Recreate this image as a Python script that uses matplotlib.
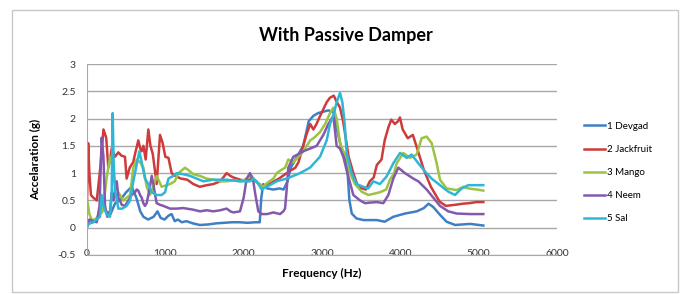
# Acceleration spectra with passive damper, five wood samples

import matplotlib
matplotlib.use("Agg")
import matplotlib.pyplot as plt
from matplotlib.patches import Rectangle

plt.rcParams['font.family'] = ['Lato', 'DejaVu Sans']

# Series (frequency in Hz, acceleration in g)
devgad_f = [0, 20, 60, 120, 170, 200, 240, 300, 360, 420, 500, 570, 630, 680, 720,
            780, 850, 900, 940, 990, 1040, 1080, 1120, 1160, 1210, 1270, 1350, 1440,
            1550, 1650, 1750, 1850, 1950, 2050, 2150, 2205, 2225, 2250, 2300, 2380,
            2460, 2510, 2560, 2600, 2640, 2700, 2760, 2800, 2830, 2890, 2950, 3000,
            3080, 3145, 3190, 3250, 3320, 3350, 3380, 3440, 3530, 3620, 3700, 3800,
            3910, 4060, 4210, 4300, 4360, 4420, 4510, 4590, 4700, 4890, 5060]
devgad_a = [0.0, 0.08, 0.1, 0.12, 0.35, 0.5, 0.3, 0.25, 0.45, 0.5, 0.65, 0.75,
            0.55, 0.3, 0.2, 0.15, 0.2, 0.3, 0.18, 0.15, 0.22, 0.25, 0.12, 0.15, 0.1,
            0.12, 0.08, 0.05, 0.06, 0.08, 0.09, 0.1, 0.1, 0.09, 0.1, 0.1, 0.55, 0.8,
            0.72, 0.7, 0.72, 0.7, 0.85, 1.1, 1.2, 1.35, 1.5, 1.75, 1.95, 2.05, 2.1,
            2.12, 2.15, 2.12, 1.8, 1.45, 1.15, 0.5, 0.26, 0.17, 0.14, 0.14, 0.14,
            0.11, 0.2, 0.26, 0.3, 0.36, 0.44, 0.38, 0.23, 0.11, 0.05, 0.07, 0.04]

jackfruit_f = [0, 15, 30, 50, 80, 125, 170, 210, 245, 272, 300, 315, 357, 400, 440,
               485, 506, 545, 590, 613, 655, 680, 698, 720, 749, 783, 810, 840, 889,
               932, 966, 1000, 1040, 1081, 1123, 1200, 1280, 1357, 1440, 1530, 1613,
               1700, 1783, 1830, 1870, 1953, 2040, 2102, 2180, 2250, 2350, 2450,
               2530, 2600, 2660, 2700, 2750, 2800, 2850, 2890, 2930, 2960, 3010, 3060,
               3100, 3150, 3190, 3230, 3270, 3300, 3340, 3400, 3460, 3510, 3560, 3610,
               3660, 3700, 3760, 3800, 3850, 3885, 3930, 3970, 3995, 4030, 4095, 4160,
               4220, 4300, 4390, 4500, 4580, 4700, 4800, 4880, 4970, 5060]
jackfruit_a = [0.45, 1.55, 1.0, 0.6, 0.55, 0.5, 1.1, 1.8, 1.65, 1.1, 1.3, 1.45, 1.3,
               1.38, 1.32, 1.3, 0.9, 1.1, 1.2, 1.35, 1.6, 1.45, 1.4, 1.5, 1.25, 1.8,
               1.5, 1.35, 0.8, 1.7, 1.55, 1.3, 1.28, 1.0, 0.95, 0.9, 0.88, 0.8, 0.75,
               0.78, 0.8, 0.85, 1.0, 0.95, 0.92, 0.88, 0.85, 0.9, 0.82, 0.75, 0.82,
               0.9, 0.98, 1.05, 1.1, 1.2, 1.45, 1.7, 1.9, 1.8, 1.9, 2.0, 2.15, 2.3,
               2.38, 2.42, 2.3, 2.2, 1.95, 1.67, 1.3, 1.0, 0.75, 0.72, 0.7, 0.85, 0.92,
               1.15, 1.25, 1.6, 1.85, 1.98, 1.9, 1.95, 2.02, 1.8, 1.64, 1.7, 1.43,
               1.06, 0.75, 0.48, 0.4, 0.42, 0.44, 0.45, 0.47, 0.47]

mango_f = [0, 10, 30, 60, 100, 140, 200, 250, 294, 315, 336, 360, 400, 440, 464,
           506, 550, 591, 634, 677, 720, 762, 804, 847, 889, 953, 1017, 1060, 1120,
           1166, 1209, 1251, 1300, 1357, 1440, 1528, 1613, 1700, 1783, 1870, 1953,
           2040, 2102, 2150, 2200, 2251, 2300, 2380, 2421, 2470, 2530, 2570, 2634,
           2700, 2760, 2804, 2850, 2900, 2974, 3040, 3102, 3145, 3187, 3230, 3272,
           3315, 3357, 3421, 3506, 3591, 3655, 3740, 3820, 3868, 3920, 3953, 4038,
           4123, 4208, 4272, 4336, 4400, 4464, 4506, 4591, 4719, 4804, 4868, 4974,
           5059]
mango_a = [0.3, 0.45, 0.25, 0.15, 0.15, 0.2, 0.3, 0.9, 1.3, 1.2, 1.0, 0.8, 0.65,
           0.55, 0.5, 0.55, 0.6, 1.1, 1.25, 1.2, 1.1, 0.75, 0.6, 0.75, 0.95, 0.75,
           0.78, 0.8, 0.85, 1.0, 1.05, 1.1, 1.05, 0.98, 0.95, 0.9, 0.88, 0.85, 0.85,
           0.87, 0.85, 0.9, 0.95, 0.85, 0.8, 0.75, 0.82, 0.9, 1.0, 1.05, 1.1, 1.25,
           1.2, 1.3, 1.4, 1.5, 1.6, 1.65, 1.75, 1.9, 2.1, 2.2, 2.0, 1.55, 1.4, 1.3,
           1.0, 0.8, 0.66, 0.6, 0.62, 0.65, 0.7, 0.88, 1.0, 1.18, 1.37, 1.28, 1.34,
           1.64, 1.67, 1.55, 1.18, 0.88, 0.72, 0.69, 0.75, 0.72, 0.7, 0.68]

neem_f = [0, 30, 80, 125, 160, 187, 210, 230, 260, 294, 315, 340, 357, 380, 400,
          421, 443, 485, 528, 570, 613, 634, 655, 677, 698, 719, 740, 762, 783, 804,
          826, 847, 870, 889, 932, 974, 1060, 1145, 1230, 1357, 1443, 1528, 1613,
          1700, 1783, 1830, 1868, 1953, 2000, 2038, 2081, 2123, 2150, 2187, 2230,
          2300, 2379, 2464, 2506, 2528, 2549, 2570, 2634, 2700, 2760, 2847, 2932,
          2974, 3017, 3081, 3145, 3187, 3230, 3272, 3315, 3400, 3485, 3549, 3613,
          3698, 3783, 3847, 3910, 3974, 4059, 4166, 4230, 4336, 4421, 4506, 4612,
          4719, 4889, 5059]
neem_a = [0.05, 0.15, 0.12, 0.1, 0.4, 1.65, 1.3, 0.4, 0.2, 0.3, 0.65, 0.5, 0.7,
          0.85, 0.55, 0.5, 0.42, 0.4, 0.5, 0.6, 0.65, 0.7, 0.68, 0.6, 0.55, 0.45,
          0.4, 0.45, 0.6, 0.75, 0.95, 0.8, 0.6, 0.45, 0.42, 0.4, 0.35, 0.35, 0.36,
          0.33, 0.3, 0.32, 0.3, 0.32, 0.35, 0.3, 0.28, 0.3, 0.55, 0.9, 1.0, 0.85,
          0.6, 0.3, 0.25, 0.25, 0.28, 0.25, 0.3, 0.35, 0.7, 1.1, 1.3, 1.35, 1.4,
          1.45, 1.5, 1.6, 1.7, 1.9, 2.05, 1.5, 1.45, 1.3, 1.05, 0.6, 0.5, 0.45,
          0.46, 0.47, 0.45, 0.6, 0.9, 1.1, 1.0, 0.9, 0.85, 0.7, 0.55, 0.4, 0.3,
          0.26, 0.25, 0.25]

sal_f = [0, 40, 81, 123, 166, 187, 210, 250, 294, 315, 328, 340, 357, 400, 450,
         506, 550, 591, 613, 640, 668, 698, 740, 783, 826, 889, 953, 996, 1040, 1102,
         1145, 1230, 1315, 1400, 1485, 1613, 1783, 1953, 2081, 2123, 2166, 2230,
         2294, 2421, 2549, 2634, 2719, 2847, 2974, 3060, 3102, 3145, 3187, 3230,
         3260, 3290, 3315, 3379, 3442, 3528, 3591, 3655, 3740, 3825, 3910, 3996,
         4081, 4144, 4230, 4315, 4400, 4506, 4612, 4698, 4783, 4868, 4974, 5059]
sal_a = [0.05, 0.08, 0.1, 0.15, 0.2, 0.6, 0.4, 0.25, 0.2, 0.6, 2.1, 1.2, 0.7, 0.35,
         0.35, 0.4, 0.5, 0.85, 1.0, 1.2, 1.4, 1.2, 0.9, 0.8, 0.65, 0.6, 0.6, 0.65,
         0.9, 0.95, 1.0, 0.98, 0.95, 0.9, 0.85, 0.88, 0.88, 0.85, 0.85, 0.9, 0.85,
         0.7, 0.75, 0.85, 0.9, 0.95, 1.0, 1.1, 1.3, 1.6, 1.9, 2.05, 2.3, 2.47, 2.3,
         1.9, 1.37, 1.0, 0.8, 0.75, 0.72, 0.85, 0.8, 0.94, 1.18, 1.37, 1.28, 1.34,
         1.18, 1.03, 0.9, 0.78, 0.66, 0.6, 0.72, 0.78, 0.78, 0.78]

series_names = ["1 Devgad", "2 Jackfruit", "3 Mango", "4 Neem", "5 Sal"]
series_colors = ["#3f7fc4", "#cf3b3b", "#9cc342", "#8459ad", "#2fb6d6"]

x_ticks = [0, 1000, 2000, 3000, 4000, 5000, 6000]
y_ticks = [-0.5, 0, 0.5, 1, 1.5, 2, 2.5, 3]

fig = plt.figure(figsize=(6.84, 2.94), dpi=100)
ax = fig.add_axes([87 / 684, 39 / 294, 470 / 684, 191 / 294])

# outer chart frame
fig.patches.append(Rectangle((12 / 684, 2 / 294), 666 / 684, 282 / 294,
                             transform=fig.transFigure, fill=False,
                             edgecolor="#c8c8c8", linewidth=1.0))

data = [(devgad_f, devgad_a), (jackfruit_f, jackfruit_a), (mango_f, mango_a),
        (neem_f, neem_a), (sal_f, sal_a)]
for (f, a), name, col in zip(data, series_names, series_colors):
    ax.plot(f, a, color=col, linewidth=1.8, label=name)

ax.set_xlim(0, 6000)
ax.set_ylim(-0.5, 3)
ax.set_xticks(x_ticks)
ax.set_yticks(y_ticks)
ax.set_yticklabels(["-0.5", "0", "0.5", "1", "1.5", "2", "2.5", "3"])
ax.tick_params(length=0, labelsize=7.5, colors="#333333")
ax.tick_params(axis="y", pad=8)
# Excel put the category labels right on the bottom axis line
ax.tick_params(axis="x", pad=-4)
ax.grid(axis="y", color="#a8a8a8", linewidth=1.0)
ax.set_axisbelow(True)
for s in ["top", "right"]:
    ax.spines[s].set_visible(False)
for s in ["left", "bottom"]:
    ax.spines[s].set_color("#a8a8a8")

ax.set_xlabel("Frequency (Hz)", fontsize=8.5, fontweight="bold", labelpad=7)
ax.set_ylabel("Accelaration (g)", fontsize=8.5, fontweight="bold", labelpad=12)
fig.text(346 / 684, 1 - 35 / 294, "With Passive Damper", ha="center", va="center",
         fontsize=13, fontweight="bold")

ax.legend(loc="upper left", bbox_to_anchor=(580 / 684, 1 - 118 / 294),
          bbox_transform=fig.transFigure, frameon=False, fontsize=7,
          handlelength=2.2, handletextpad=0.2, labelspacing=1.45,
          borderaxespad=0)

fig.savefig("out.png", dpi=100)
